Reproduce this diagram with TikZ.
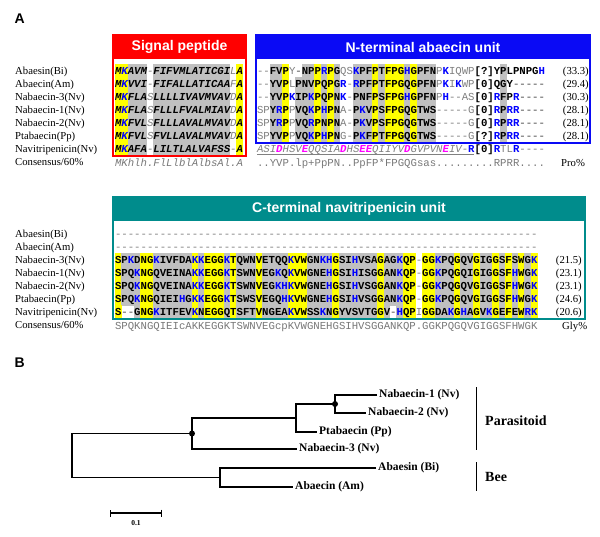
\documentclass[tikz,border=0pt]{standalone}
\usepackage{fontspec}
\setmainfont{Liberation Serif}
\setsansfont{Liberation Sans}
\setmonofont{Liberation Mono}
\usetikzlibrary{arrows.meta}
\definecolor{sigred}{RGB}{255,0,0}
\definecolor{abablue}{RGB}{10,10,245}
\definecolor{navteal}{RGB}{0,140,140}
\definecolor{shadegray}{RGB}{192,192,192}
\definecolor{shadeyellow}{RGB}{255,255,0}
\definecolor{resgray}{RGB}{128,128,128}
\definecolor{congray}{RGB}{120,120,120}
\definecolor{resblue}{RGB}{0,0,255}
\definecolor{resmagenta}{RGB}{255,0,255}

\newif\ifshadepass
\newcount\rescol
\newcommand{\rescw}{6.4}
\newcommand{\seqfont}{\ttfamily\fontsize{10.67}{12}\selectfont}
% one residue: y/s = yellow/gray box, n = none, k = bold, Y/S/N italic, c/C consensus, i = italic gray
\newcommand{\putres}[2]{%
  \pgfmathsetmacro\resx{\rowx+\the\rescol*\rescw}%
  \let\resbg\relax\def\resfont{\bfseries}\def\resbold{\bfseries}\def\rescolor{black}%
  \if#2y\def\resbg{shadeyellow}\fi
  \if#2s\def\resbg{shadegray}\fi
  \if#2Y\def\resbg{shadeyellow}\def\resfont{\bfseries\itshape}\fi
  \if#2S\def\resbg{shadegray}\def\resfont{\bfseries\itshape}\fi
  \if#2n\def\resfont{\mdseries}\def\rescolor{resgray}\fi
  \if#2N\def\resfont{\itshape}\def\resbold{\bfseries\itshape}\def\rescolor{resgray}\fi
  \if#2c\def\resfont{\mdseries}\def\rescolor{congray}\fi
  \if#2C\def\resfont{\itshape}\def\rescolor{congray}\fi
  \if#2i\def\resfont{\itshape}\def\rescolor{resgray}\fi
  \def\resblue{0}%
  \if#1K\def\resblue{1}\fi\if#1R\def\resblue{1}\fi\if#1H\def\resblue{1}\fi
  \if#2c\def\resblue{0}\fi\if#2C\def\resblue{0}\fi\if#2i\def\resblue{0}\fi
  \if1\resblue\def\rescolor{resblue}\ifx\resbg\relax\let\resfont\resbold\fi\fi
  \if#2i\if#1D\def\rescolor{resmagenta}\def\resfont{\bfseries\itshape}\fi
    \if#1E\def\rescolor{resmagenta}\def\resfont{\bfseries\itshape}\fi\fi
  \if#1-\let\resbg\relax\def\rescolor{resgray}\fi
  \ifshadepass
    \ifx\resbg\relax\else
      \fill[fill=\resbg] (\resx-0.15,\rowy-6.6) rectangle ++(\rescw+0.3,13.2);%
    \fi
  \else
    \edef\resname{\rowname-\the\rescol}%
    \node[res,text=\rescolor,font=\seqfont\resfont,name=\resname] at (\resx,\rowy+3) {#1};%
  \fi}
\newcommand{\seqrow}[5]{\def\rowname{#1}\def\rowx{#2}\def\rowy{#3}\rescol=0 \seqstep#4\relax#5\relax}
\def\seqstep#1#2\relax#3#4\relax{\putres{#1}{#3}\advance\rescol by 1
  \ifx\relax#2\relax\let\seqnext\relax\else\def\seqnext{\seqstep#2\relax#4\relax}\fi\seqnext}
\newcommand{\seqrowone}[5]{\def\rowname{#1}\def\rowx{#2}\def\rowy{#3}\def\rowmask{#5}\rescol=0 \seqone#4\relax}
\def\seqone#1#2\relax{\putres{#1}{\rowmask}\advance\rescol by 1
  \ifx\relax#2\relax\let\seqnext\relax\else\def\seqnext{\seqone#2\relax}\fi\seqnext}

\newcommand{\alignrows}{%
  % signal peptide
  \seqrow{sig0}{115}{71}{MKAVM-FIFVMLATICGILA}{YYSSSNSSSS SSSSSSSSNY nnnn}%
  \seqrow{sig1}{115}{84}{MKVVI-FIFALLATICAAFA}{YYSSSNSSSS SSSSSSSSNY nnnn}%
  \seqrow{sig2}{115}{97}{MKFLASLLLLIVAVMVAVDA}{YYSSSNSSSS SSSSSSSSNY nnnn}%
  \seqrow{sig3}{115}{110}{MKFLASFLLLFVALMIAVDA}{YYSSSNSSSS SSSSSSSSNY nnnn}%
  \seqrow{sig4}{115}{123}{MKFVLSFLLLAVALMVAVDA}{YYSSSNSSSS SSSSSSSSNY nnnn}%
  \seqrow{sig5}{115}{136}{MKFVLSFVLLAVALMVAVDA}{YYSSSNSSSS SSSSSSSSNY nnnn}%
  \seqrow{sig6}{115}{149}{MKAFA-LILTLALVAFSS-A}{YYSSSNSSSS SSSSSSSSNY nnnn}%
  \seqrowone{sigc}{115}{163}{MKhlh.FlLlblAlbsAl.A}{C}%
  % N-terminal abaecin unit
  \seqrow{nt0}{257}{71}{--FVPY-NPPRPGQSKPFPTFPGHGPFNPKIQWP[?]YPLPNPGH}{nnssynsssy sysnnsssys yyysysssnn nnnnkkkksk kkkkk nnnn}%
  \seqrow{nt1}{257}{84}{--YVPLPNVPQPGR-RPFPTFPGQGPFNPKIKWP[0]QGY-----}{nnssynsssy sysnnsssys yyysysssnn nnnnkkkksk kkkkk nnnn}%
  \seqrow{nt2}{257}{97}{--YVPKIPKPQPNK-PNFPSFPGHGPFNPH--AS[0]RFPR----}{nnssynsssy sysnnsssys yyysysssnn nnnnkkkksk kkkkk nnnn}%
  \seqrow{nt3}{257}{110}{SPYRPPVQKPHPNA-PKVPSFPGQGTWS-----G[0]RPRR----}{nnssynsssy sysnnsssys yyysysssnn nnnnkkkksk kkkkk nnnn}%
  \seqrow{nt4}{257}{123}{SPYRPPVQRPNPNA-PKVPSFPGQGTWS-----G[0]RPRR----}{nnssynsssy sysnnsssys yyysysssnn nnnnkkkksk kkkkk nnnn}%
  \seqrow{nt5}{257}{136}{SPYVPPVQKPHPNG-PKFPTFPGQGTWS-----G[?]RPRR----}{nnssynsssy sysnnsssys yyysysssnn nnnnkkkksk kkkkk nnnn}%
  \seqrow{nt6}{257}{149}{ASIDHSVEQQSIADHSEEQIIYVDGVPVNEIV-R[0]RTLR----}{iiiiiiiiii iiiiiiiiii iiiiiiiiii iiinkkknnn nnnnn nnnn}%
  \seqrowone{ntc}{257}{163}{..YVP.lp+PpPN..PpFP*FPGQGsas.........RPRR....}{c}%
  % C-terminal navitripenicin unit
  \seqrowone{ct0}{115}{234}{---------- ---------- ---------- ---------- ---------- ---------- ------}{n}%
  \seqrowone{ct1}{115}{247}{---------- ---------- ---------- ---------- ---------- ---------- ------}{n}%
  \seqrow{ct2}{115}{260}{SPKDNGKIVFDAKKEGGKTQWNVETQQKVWGNKHGSIHVSAGAGKQP-GGKPQGQVGIGGSFSWGK}{ysssyyssss ssysyyysys ssyssssyyy ssssysssss sysssyynyy sssyssyssy sysysy nnnn}%
  \seqrow{ct3}{115}{273}{SPQKNGQVEINAKKEGGKTSWNVEGKQKVWGNEHGSIHISGGANKQP-GGKPQGQIGIGGSFHWGK}{ysssyyssss ssysyyysys ssyssssyyy ssssysssss sysssyynyy sssyssyssy sysysy nnnn}%
  \seqrow{ct4}{115}{286}{SPQKNGQVEINAKKEGGKTSWNVEGKHKVWGNEHGSIHVSGGANKQP-GGKPQGQVGIGGSFHWGK}{ysssyyssss ssysyyysys ssyssssyyy ssssysssss sysssyynyy sssyssyssy sysysy nnnn}%
  \seqrow{ct5}{115}{299}{SPQKNGQIEIHGKKEGGKTSWSVEGQHKVWGNEHGSIHVSGGANKQP-GGKPQGQVGIGGSFHWGK}{ysssyyssss ssysyyysys ssyssssyyy ssssysssss sysssyynyy sssyssyssy sysysy nnnn}%
  \seqrow{ct6}{115}{312}{S--GNGKITFEVKNEGGQTSFTVNGEAKVWSSKNGYVSVTGGV-HQPIGGDAKGHAGVKGEFEWRK}{ysssyyssss ssysyyysys ssyssssyyy ssssysssss sysssyynyy sssyssyssy sysysy nnnn}%
  \seqrowone{ctc}{115}{326}{SPQKNGQIEIcAKKEGGKTSWNVEGcpKVWGNEHGSIHVSGGANKQP.GGKPQGQVGIGGSFHWGK}{c}}

\begin{document}
\begin{tikzpicture}[x=1pt,y=-1pt,
    res/.style={inner sep=0pt,outer sep=0pt,anchor=base west},
    rowlab/.style={inner sep=0pt,anchor=base west,font=\fontsize{10.7}{12}\selectfont},
    pct/.style={inner sep=0pt,anchor=base east,font=\fontsize{10.7}{12}\selectfont},
    head/.style={text=white,inner sep=0pt,font=\sffamily\bfseries\fontsize{14}{16}\selectfont},
    panel/.style={inner sep=0pt,anchor=base west,font=\sffamily\bfseries\fontsize{14}{16}\selectfont},
    leaf/.style={anchor=west,inner sep=2pt,font=\bfseries\fontsize{11.5}{13}\selectfont},
    clade/.style={anchor=west,inner sep=0pt,font=\bfseries\fontsize{14}{16}\selectfont},
    branch/.style={line width=1.2pt}]
\useasboundingbox (0,0) rectangle (600,536);
\fill[white] (0,0) rectangle (600,536);

\node[panel] (pA) at (14.5,23.5) {A};
\node[panel] (pB) at (14.5,367.5) {B};

\foreach \t [count=\i from 0] in {Abaesin(Bi),Abaecin(Am),Nabaecin-3(Nv),Nabaecin-1(Nv),Nabaecin-2(Nv),Ptabaecin(Pp),Navitripenicin(Nv),Consensus/60\%}
  {\node[rowlab] (lab\i) at (15,{71+13*\i+3.7}) {\t};
   \node[rowlab] (labc\i) at (15,{234+13*\i+3.7}) {\t};}

\shadepasstrue\alignrows
\shadepassfalse\alignrows

\coordinate (ul1) at (257,153.8);
\coordinate (ul2) at (474,153.8);
\draw[resgray,line width=0.6pt] (ul1) -- (ul2);

\foreach \p [count=\i from 0] in {33.3,29.4,30.3,28.1,28.1,28.1}
  \node[pct] (pn\i) at (589,{71+13*\i+3.5}) {(\p)};
\node[rowlab] (pro) at (561,166.5) {Pro\%};
\foreach \p [count=\i from 2] in {21.5,23.1,23.1,24.6,20.6}
  \node[pct] (pc\i) at (582,{234+13*\i+3.5}) {(\p)};
\node[rowlab] (gly) at (562,329.5) {Gly\%};

% boxes
\draw[sigred,line width=1.5pt] (113,35) rectangle (246,156);
\fill[sigred] (113,35) rectangle (246,59);
\node[head] (hsig) at (179.5,47) {Signal peptide};
\draw[abablue,line width=1.5pt] (256,35) rectangle (590,143);
\fill[abablue] (256,35) rectangle (590,59);
\node[head] (hnt) at (423,47) {N-terminal abaecin unit};
\draw[navteal,line width=1.5pt] (113,197) rectangle (585,319);
\fill[navteal] (113,197) rectangle (585,221);
\node[head] (hct) at (349,209) {C-terminal navitripenicin unit};

% tree
\node[leaf] (nab1) at (377,395) {Nabaecin-1 (Nv)};
\node[leaf] (nab2) at (366,413) {Nabaecin-2 (Nv)};
\node[leaf] (ptab) at (317,432) {Ptabaecin (Pp)};
\node[leaf] (nab3) at (297,449) {Nabaecin-3 (Nv)};
\node[leaf] (abas) at (376,468) {Abaesin (Bi)};
\node[leaf] (abac) at (293,487) {Abaecin (Am)};
\coordinate (n3) at (335,404);
\coordinate (n2) at (296,418);
\coordinate (n1) at (192,433.5);
\coordinate (n4) at (220,477.5);
\coordinate (n0) at (72,455.5);
\draw[branch] (nab1) -| (n3) |- (nab2);
\draw[branch] (n3) -| (n2) |- (ptab);
\draw[branch] (n2) -| (n1) |- (nab3);
\draw[branch] (n1) -| (n0) |- (n4);
\draw[branch] (abas) -| (n4) |- (abac);
\fill (n1) circle (3);
\fill (n3) circle (3);

\draw[line width=1pt] (476,387) -- (476,450);
\node[clade] (para) at (485,421) {Parasitoid};
\draw[line width=1pt] (476,462) -- (476,491);
\node[clade] (bee) at (485,477) {Bee};

\coordinate (sb1) at (110,513);
\coordinate (sb2) at (162,513);
\draw[line width=1.2pt,{Bar[width=7pt]}-{Bar[width=7pt]}] (sb1) -- (sb2);
\node[inner sep=0pt,font=\bfseries\fontsize{7.5}{9}\selectfont] (sblab) at (136,523) {0.1};
\end{tikzpicture}
\end{document}
